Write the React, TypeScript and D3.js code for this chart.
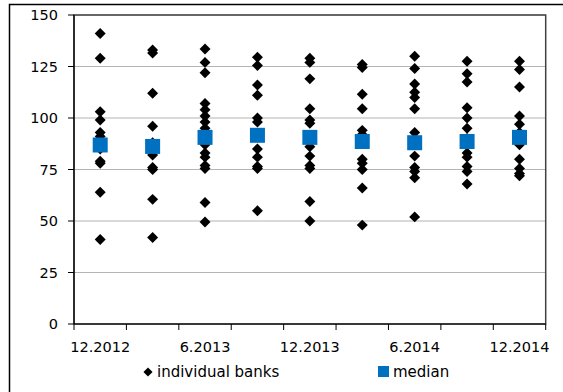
import React from "react";
import * as d3 from "d3";

const categories = ["12.2012", "3.2013", "6.2013", "9.2013", "12.2013", "3.2014", "6.2014", "9.2014", "12.2014"];
const shownLabels = ["12.2012", "6.2013", "12.2013", "6.2014", "12.2014"];
const yTicks = [0, 25, 50, 75, 100, 125, 150];

const banks1 = [141, 129, 103, 99, 93, 91, 88, 85, 79, 78, 64, 41];
const banks2 = [133, 131.5, 112, 96, 88, 86, 82, 76, 75, 60.5, 42];
const banks3 = [133.5, 127, 122, 107, 104, 101, 98, 95, 87, 83, 81, 77, 75.5, 59, 49.5];
const banks4 = [129.5, 125.5, 116, 111, 100, 98, 92, 85, 81, 76.5, 75.5, 55];
const banks5 = [129, 127, 119, 104.5, 99, 97.5, 91, 86, 81.5, 77, 75.5, 59.5, 50];
const banks6 = [126, 124.5, 111.5, 104.5, 94, 92, 89, 80, 78, 75, 66, 48];
const banks7 = [130, 124, 116.5, 112.5, 110, 104.5, 93, 88, 81.5, 76, 74, 71, 52];
const banks8 = [127.5, 121.5, 117.5, 105, 100, 95, 90, 83, 81, 76.5, 74, 68];
const banks9 = [127.5, 123.5, 115, 101, 97, 93, 87, 80, 75.5, 73, 72];
const bankSeries = [banks1, banks2, banks3, banks4, banks5, banks6, banks7, banks8, banks9];
const medians = [86.9, 86.2, 90.6, 91.6, 90.6, 88.6, 88.0, 88.6, 90.6];

const FONT = "'DejaVu Sans', Verdana, sans-serif";

export default function App() {
  const left = 74, right = 545.7, top = 15, bottom = 324;
  const x = d3.scaleBand<string>().domain(categories).range([left, right]).padding(0);
  const y = d3.scaleLinear().domain([0, 150]).range([bottom, top]);
  const bw = x.bandwidth();
  const diamond = d3.symbol().type(d3.symbolSquare).size(60)();
  const legendDiamond = d3.symbol().type(d3.symbolSquare).size(42)();
  const boundaries = categories.map((c) => x(c)!).concat([right]);

  return (
    <svg width={563} height={392} style={{ position: "absolute", left: 0, top: 0, background: "#fff" }} fontFamily={FONT}>
      <rect x={9.5} y={4.5} width={600} height={400} fill="#fff" stroke="#000" strokeWidth={1.5} />
      {yTicks.filter((t) => t > 0).map((t) => (
        <line key={"g" + t} x1={left} x2={right} y1={y(t)} y2={y(t)} stroke="#b4b4b4" strokeWidth={1.2} />
      ))}
      <rect x={left} y={top} width={right - left} height={bottom - top} fill="none" stroke="#404040" strokeWidth={1.5} />
      <line x1={left} x2={left} y1={top} y2={bottom} stroke="#000" strokeWidth={1.2} />
      <line x1={left} x2={right} y1={bottom} y2={bottom} stroke="#000" strokeWidth={1.2} />
      {yTicks.map((t) => (
        <g key={"y" + t}>
          <line x1={left - 6} x2={left} y1={y(t)} y2={y(t)} stroke="#000" strokeWidth={1} />
          <text x={58} y={y(t)} textAnchor="end" dominantBaseline="central" fontSize={14.5} fill="#000">{t}</text>
        </g>
      ))}
      {boundaries.map((b, i) => (
        <line key={"xt" + i} x1={b} x2={b} y1={bottom} y2={bottom + 6} stroke="#000" strokeWidth={1} />
      ))}
      {shownLabels.map((l) => (
        <text key={"xl" + l} x={x(l)! + bw / 2} y={347} textAnchor="middle" dominantBaseline="central" fontSize={14.5} fill="#000">{l}</text>
      ))}
      {bankSeries.map((vals, i) =>
        vals.map((v, j) => (
          <path key={`d${i}-${j}`} d={diamond!} transform={`translate(${x(categories[i])! + bw / 2},${y(v)}) rotate(45)`} fill="#000" />
        ))
      )}
      {medians.map((m, i) => (
        <rect key={"m" + i} x={x(categories[i])! + bw / 2 - 7.5} y={y(m) - 7.5} width={15} height={15} fill="#0070c0" />
      ))}
      <path d={legendDiamond!} transform="translate(148,372) rotate(45)" fill="#000" />
      <text x={157} y={372} dominantBaseline="central" fontSize={15} fill="#000">individual banks</text>
      <rect x={378} y={366} width={11} height={11} fill="#0070c0" />
      <text x={393} y={372} dominantBaseline="central" fontSize={15} fill="#000">median</text>
    </svg>
  );
}
